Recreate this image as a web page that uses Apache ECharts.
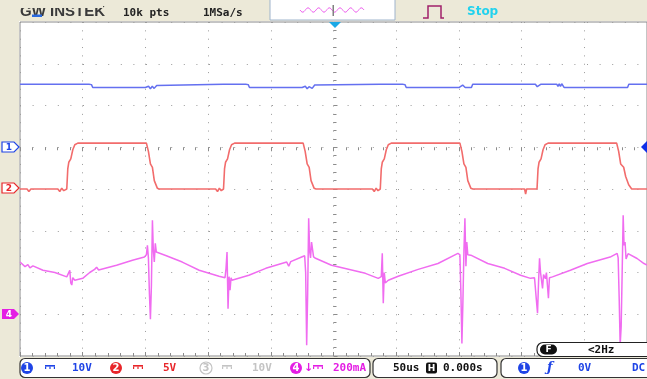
<!DOCTYPE html>
<html>
<head>
<meta charset="utf-8">
<script src="https://cdn.jsdelivr.net/npm/echarts/dist/echarts.min.js"></script>
<style>
  html, body { margin: 0; padding: 0; background: #ffffff; }
  #scope { width: 647px; height: 379px; }
</style>
</head>
<body>
<div id="scope"></div>
<script>
// Time base: 50 us/div, 10 divisions, trigger at the centre (H 0.000s)
const timeTicksUs = [-250, -200, -150, -100, -50, 0, 50, 100, 150, 200, 250];

// CH1 (10 V/div) : [time us, volts]
const ch1Trace = [
  [-250.0, 15.1], [-213.0, 15.1], [-211.9, 14.7], [-210.8, 15.1],
  [-195.0, 15.1], [-194.0, 15.5], [-193.0, 15.0], [-192.0, 14.3],
  [-150.0, 14.3], [-149.0, 13.9], [-147.5, 14.6], [-146.0, 14.0], [-144.5, 14.6], [-143.0, 14.1], [-141.0, 14.8], [-139.5, 15.1],
  [-88.0, 15.1], [-86.9, 14.7], [-85.8, 15.1],
  [-70.0, 15.1], [-69.0, 15.5], [-68.0, 15.0], [-67.0, 14.3],
  [-25.0, 14.3], [-24.0, 13.9], [-22.5, 14.6], [-21.0, 14.0], [-19.5, 14.5], [-17.0, 14.1], [-15.0, 14.9], [-14.0, 15.1],
  [37.0, 15.1], [38.1, 14.7], [39.2, 15.1],
  [55.0, 15.1], [56.0, 15.5], [57.0, 15.0], [58.0, 14.3],
  [100.0, 14.3], [101.5, 14.6], [103.0, 14.9], [104.0, 15.3], [105.0, 14.3],
  [110.0, 14.3], [111.0, 15.1],
  [161.0, 15.1], [162.5, 14.5], [164.0, 14.5], [165.5, 15.1],
  [178.0, 15.1], [179.0, 14.6], [180.0, 15.2], [181.0, 14.6], [182.0, 15.2], [183.0, 14.8], [184.0, 14.3],
  [234.5, 14.3], [235.5, 15.1], [250.0, 15.1]
];

// CH2 (5 V/div) : [time us, volts]
const ch2Trace = [
  [-250.0, 0.0], [-244.4, 0.0], [-242.9, -0.3], [-241.3, 0.0], [-219.8, 0.0], [-218.3, -0.3], [-216.7, 0.1], [-215.1, -0.2],
  [-212.7, 0.0], [-211.9, 2.4], [-211.1, 3.2], [-209.5, 3.6], [-207.9, 4.7], [-206.3, 5.3], [-203.9, 5.5],
  [-149.2, 5.5], [-147.6, 4.5], [-146.0, 3.0], [-144.4, 2.6], [-142.9, 1.0], [-140.5, 0.1], [-138.9, 0.0],
  [-120.0, 0.0], [-118.5, -0.2], [-117.0, 0.0], [-94.0, 0.0], [-92.5, -0.3], [-91.0, 0.1], [-89.5, -0.2],
  [-87.7, 0.0], [-86.9, 2.4], [-86.1, 3.2], [-84.5, 3.6], [-82.9, 4.7], [-81.3, 5.3], [-78.9, 5.5],
  [-24.2, 5.5], [-22.6, 4.5], [-21.0, 3.0], [-19.4, 2.6], [-17.9, 1.0], [-15.5, 0.1], [-13.9, 0.0],
  [5.0, 0.0], [6.5, -0.2], [8.0, 0.0], [31.0, 0.0], [32.5, -0.3], [34.0, 0.1], [35.5, -0.2],
  [37.3, 0.0], [38.1, 2.4], [38.9, 3.2], [40.5, 3.6], [42.1, 4.7], [43.7, 5.3], [46.1, 5.5],
  [100.8, 5.5], [102.4, 4.5], [104.0, 3.0], [105.6, 2.6], [107.1, 1.0], [109.5, 0.1], [111.1, 0.0],
  [152.4, 0.0], [153.2, -0.6], [154.0, 0.0],
  [162.3, 0.0], [163.1, 2.4], [163.9, 3.2], [165.5, 3.6], [167.1, 4.7], [168.7, 5.3], [171.1, 5.5],
  [225.8, 5.5], [227.4, 4.5], [229.0, 3.0], [231.4, 2.6], [233.0, 1.5], [235.4, 0.5], [237.8, 0.0], [250.0, 0.0]
];

// CH4 (200 mA/div) : [time us, milliamps]
const ch4Trace = [
  [-250.0, 250], [-246.0, 228], [-243.7, 238], [-242.1, 222], [-239.7, 232], [-231.7, 211], [-222.2, 200],
  [-212.7, 179], [-210.3, 210], [-209.5, 150], [-208.7, 140], [-207.9, 175], [-206.3, 163], [-200.0, 172],
  [-194.4, 200], [-190.5, 215], [-188.9, 225], [-187.3, 212], [-173.0, 235], [-160.3, 259], [-150.8, 274],
  [-149.2, 285], [-148.4, 330], [-147.6, 270], [-146.8, 100], [-146.0, -24], [-145.2, 140], [-144.4, 450],
  [-143.7, 310], [-142.9, 250], [-142.1, 340], [-141.3, 298], [-133.3, 280], [-120.6, 250], [-107.1, 211],
  [-91.3, 182], [-86.5, 175], [-85.7, 220], [-84.9, 298], [-84.1, 27], [-83.3, 180], [-82.5, 115], [-81.7, 175],
  [-81.0, 163], [-67.5, 187], [-54.0, 220], [-37.3, 250], [-35.7, 230], [-34.1, 252], [-25.4, 274],
  [-23.0, 280], [-22.2, 200], [-21.4, -148], [-20.6, 100], [-19.8, 460], [-19.0, 300], [-18.3, 270],
  [-17.5, 346], [-15.9, 275], [-14.3, 268], [-1.6, 235], [25.4, 196], [35.7, 172],
  [38.1, 180], [38.9, 292], [39.7, 53], [40.5, 200], [41.3, 150], [43.7, 163], [51.6, 182], [67.5, 215],
  [83.3, 243], [99.2, 292], [100.8, 285], [101.6, 100], [102.4, -140], [103.2, 60], [104.0, 300],
  [104.8, 460], [105.6, 230], [106.3, 346], [107.1, 285], [109.5, 283], [123.0, 243], [136.5, 220],
  [149.2, 187], [157.1, 172], [160.3, 175], [161.9, 60], [162.7, 5], [163.5, 150], [164.3, 268],
  [165.1, 200], [166.7, 124], [167.5, 190], [169.0, 170], [169.8, 200], [171.4, 77], [172.2, 175],
  [174.6, 179], [188.9, 211], [202.4, 243], [220.6, 274], [226.2, 292], [227.0, 270], [227.8, 80],
  [228.6, -148], [229.4, -60], [230.2, 200], [231.0, 474], [231.7, 330], [232.5, 346], [233.3, 265],
  [234.9, 290], [242.1, 267], [247.6, 243], [250.0, 236]
];

// Vertical ranges per channel (8 divisions each, offsets set by the channel position)
const ch1Range = [-50, 30];     // 10 V/div, ground 5 div up
const ch2Range = [-20, 20];     // 5 V/div, ground 4 div up
const ch4Range = [-200, 1400];  // 200 mA/div, ground 1 div up

const C1 = '#1f44e6', C2 = '#e8262a', C4 = '#e41ee4';
const BEIGE = '#ece9d8';
const MONO = 'bold 11px "DejaVu Sans Mono", "Liberation Mono", monospace';
const ZTOP = 130;

function txt(x, y, s, fill, font, align) {
  return { type: 'text', x: x, y: y, z: ZTOP,
    style: { text: s, fill: fill, font: font || MONO, align: align || 'left', verticalAlign: 'middle' } };
}
function chanBadge(cx, cy, n, fill, outline) {
  return [
    { type: 'circle', z: ZTOP, shape: { cx: cx, cy: cy, r: 6 },
      style: outline ? { fill: '#fff', stroke: fill, lineWidth: 1.2 } : { fill: fill } },
    { type: 'text', z: ZTOP + 1, x: cx, y: cy + 0.5,
      style: { text: String(n), fill: outline ? fill : '#fff', font: 'bold 10px "DejaVu Sans", sans-serif',
               align: 'center', verticalAlign: 'middle' } }
  ];
}
function dcMark(x, y, color) {
  return [
    { type: 'rect', z: ZTOP, shape: { x: x, y: y, width: 10, height: 1.6 }, style: { fill: color } },
    { type: 'rect', z: ZTOP, shape: { x: x, y: y + 1.6, width: 1.2, height: 2.4 }, style: { fill: color } },
    { type: 'rect', z: ZTOP, shape: { x: x + 4.4, y: y + 1.6, width: 1.2, height: 2.4 }, style: { fill: color } },
    { type: 'rect', z: ZTOP, shape: { x: x + 8.8, y: y + 1.6, width: 1.2, height: 2.4 }, style: { fill: color } }
  ];
}
function levelMarker(y, n, color, filled) {
  return [
    { type: 'polygon', z: ZTOP, shape: { points: [[2, y - 5], [14, y - 5], [19, y], [14, y + 5], [2, y + 5]] },
      style: filled ? { fill: color } : { fill: '#fff', stroke: color, lineWidth: 1.2 } },
    { type: 'text', z: ZTOP + 1, x: 9, y: y + 0.5,
      style: { text: String(n), fill: filled ? '#fff' : color, font: 'bold 9px "DejaVu Sans", sans-serif',
               align: 'center', verticalAlign: 'middle' } }
  ];
}

const wavePts = [];
for (let i = 0; i <= 64; i++) wavePts.push([300 + i, 10 + 2.2 * Math.sin(i / 64 * Math.PI * 12)]);

const graphics = [
  // side panels
  { type: 'rect', z: 90, shape: { x: 0, y: 0, width: 647, height: 21 }, style: { fill: BEIGE } },
  { type: 'rect', z: 90, shape: { x: 0, y: 0, width: 19, height: 379 }, style: { fill: BEIGE } },
  { type: 'rect', z: 90, shape: { x: 0, y: 357, width: 647, height: 22 }, style: { fill: BEIGE } },
  // header
  { type: 'text', x: 20, y: 19, z: ZTOP,
    style: { text: 'GW INSTEK', fill: '#3a3a3a', font: 'bold 15px "Liberation Sans", Arial, sans-serif',
             align: 'left', verticalAlign: 'bottom' } },
  { type: 'rect', z: ZTOP + 1, shape: { x: 18, y: 0, width: 85, height: 8 }, style: { fill: BEIGE } },
  { type: 'rect', z: ZTOP + 2, shape: { x: 32, y: 14.5, width: 10, height: 2.5 }, style: { fill: '#2a6ae0' } },
  txt(123, 13, '10k pts', '#222'),
  txt(203, 13, '1MSa/s', '#222'),
  { type: 'rect', z: 110, shape: { x: 270, y: -2, width: 125, height: 22 },
    style: { fill: '#fff', stroke: '#9fb4cc', lineWidth: 1 } },
  { type: 'polyline', z: ZTOP, shape: { points: wavePts }, style: { stroke: '#ee66ee', lineWidth: 1, fill: null } },
  { type: 'rect', z: ZTOP + 1, shape: { x: 332.5, y: 5, width: 1.5, height: 11 }, style: { fill: '#808080' } },
  { type: 'polyline', z: ZTOP, shape: { points: [[423, 18], [428, 18], [428, 6], [441, 6], [441, 18], [444, 18]] },
    style: { stroke: '#a0206a', lineWidth: 1.5, fill: null } },
  txt(467, 12, 'Stop', '#22d2ee', 'bold 12px "DejaVu Sans", sans-serif'),
  // trigger position / level markers
  { type: 'polygon', z: ZTOP, shape: { points: [[329, 22], [341, 22], [335, 28]] }, style: { fill: '#1aa8e6' } },
  { type: 'polygon', z: ZTOP, shape: { points: [[641, 147], [647, 141], [647, 153]] }, style: { fill: '#1030e8' } },
  ...levelMarker(147, 1, C1, false),
  ...levelMarker(188, 2, C2, false),
  ...levelMarker(314, 4, C4, true),
  // frequency counter box
  { type: 'rect', z: 110, shape: { x: 537, y: 342.5, width: 116, height: 14, r: 6 },
    style: { fill: '#fff', stroke: '#222', lineWidth: 1.2 } },
  { type: 'rect', z: ZTOP, shape: { x: 540, y: 344.5, width: 17, height: 10, r: 5 }, style: { fill: '#111' } },
  txt(548.5, 350, 'F', '#fff', 'bold 9px "DejaVu Sans", sans-serif', 'center'),
  txt(588, 350, '<2Hz', '#111'),
  // channel readout bar
  { type: 'rect', z: 110, shape: { x: 20, y: 358.5, width: 350, height: 19, r: 5 },
    style: { fill: '#fff', stroke: '#333', lineWidth: 1.2 } },
  { type: 'rect', z: 110, shape: { x: 373, y: 358.5, width: 124, height: 19, r: 5 },
    style: { fill: '#fff', stroke: '#333', lineWidth: 1.2 } },
  { type: 'rect', z: 110, shape: { x: 501, y: 358.5, width: 152, height: 19, r: 5 },
    style: { fill: '#fff', stroke: '#333', lineWidth: 1.2 } },
  ...chanBadge(27, 368, 1, C1, false),
  ...dcMark(45, 365, C1),
  txt(72, 368, '10V', C1),
  ...chanBadge(116, 368, 2, C2, false),
  ...dcMark(133, 365, C2),
  txt(163, 368, '5V', C2),
  ...chanBadge(206, 368, 3, '#c4c4c4', true),
  ...dcMark(222, 365, '#c4c4c4'),
  txt(252, 368, '10V', '#c4c4c4'),
  ...chanBadge(296, 368, 4, C4, false),
  txt(304, 368, '↓', C4, 'bold 11px "DejaVu Sans", sans-serif'),
  ...dcMark(313, 365, C4),
  txt(333, 368, '200mA', C4),
  txt(393, 368, '50us', '#111'),
  { type: 'rect', z: ZTOP, shape: { x: 426, y: 362.5, width: 11, height: 11, r: 2 }, style: { fill: '#111' } },
  txt(431.5, 368.5, 'H', '#fff', 'bold 9px "DejaVu Sans", sans-serif', 'center'),
  txt(443, 368, '0.000s', '#111'),
  ...chanBadge(524, 368, 1, C1, false),
  txt(547, 368, 'ƒ', C1, 'italic bold 13px "DejaVu Serif", serif'),
  txt(578, 368, '0V', C1),
  txt(632, 368, 'DC', C1)
];

const dots = (gap) => ({ show: true, lineStyle: { color: '#9a9a9a', width: 1, type: [1, gap] } });
const tickSet = {
  axisLine: { show: false },
  axisLabel: { show: false },
  axisTick: { show: true, inside: true, length: 4, lineStyle: { color: '#8c8c8c' } },
  minorTick: { show: true, splitNumber: 5, length: 3, lineStyle: { color: '#8c8c8c' } }
};

const chart = echarts.init(document.getElementById('scope'), null, { renderer: 'canvas' });
chart.setOption({
  animation: false,
  backgroundColor: '#ffffff',
  grid: { left: 20, top: 22, width: 630, height: 334, show: true, borderColor: '#8a8a8a', borderWidth: 1,
          backgroundColor: '#ffffff' },
  xAxis: [
    Object.assign({ type: 'value', position: 'bottom', min: timeTicksUs[0], max: timeTicksUs[timeTicksUs.length - 1],
                    interval: 50, splitLine: dots(7.35) }, tickSet),
    Object.assign({ type: 'value', position: 'top', min: timeTicksUs[0], max: timeTicksUs[timeTicksUs.length - 1],
                    interval: 50, splitLine: { show: false } }, tickSet)
  ],
  yAxis: [
    Object.assign({ type: 'value', position: 'left', min: 0, max: 8, interval: 1, splitLine: dots(11.6) }, tickSet),
    { type: 'value', show: false, min: ch1Range[0], max: ch1Range[1] },
    { type: 'value', show: false, min: ch2Range[0], max: ch2Range[1] },
    { type: 'value', show: false, min: ch4Range[0], max: ch4Range[1] }
  ],
  series: [
    { name: 'CH1', type: 'line', yAxisIndex: 1, data: ch1Trace, showSymbol: false, symbol: 'none',
      lineStyle: { color: '#6470f0', width: 1.5 }, z: 5 },
    { name: 'CH2', type: 'line', yAxisIndex: 2, data: ch2Trace, showSymbol: false, symbol: 'none',
      lineStyle: { color: '#f26c6c', width: 1.6 }, z: 5 },
    { name: 'CH4', type: 'line', yAxisIndex: 3, data: ch4Trace, showSymbol: false, symbol: 'none',
      lineStyle: { color: '#f06cf0', width: 1.5 }, z: 5 }
  ],
  graphic: { elements: graphics }
});
</script>
</body>
</html>
